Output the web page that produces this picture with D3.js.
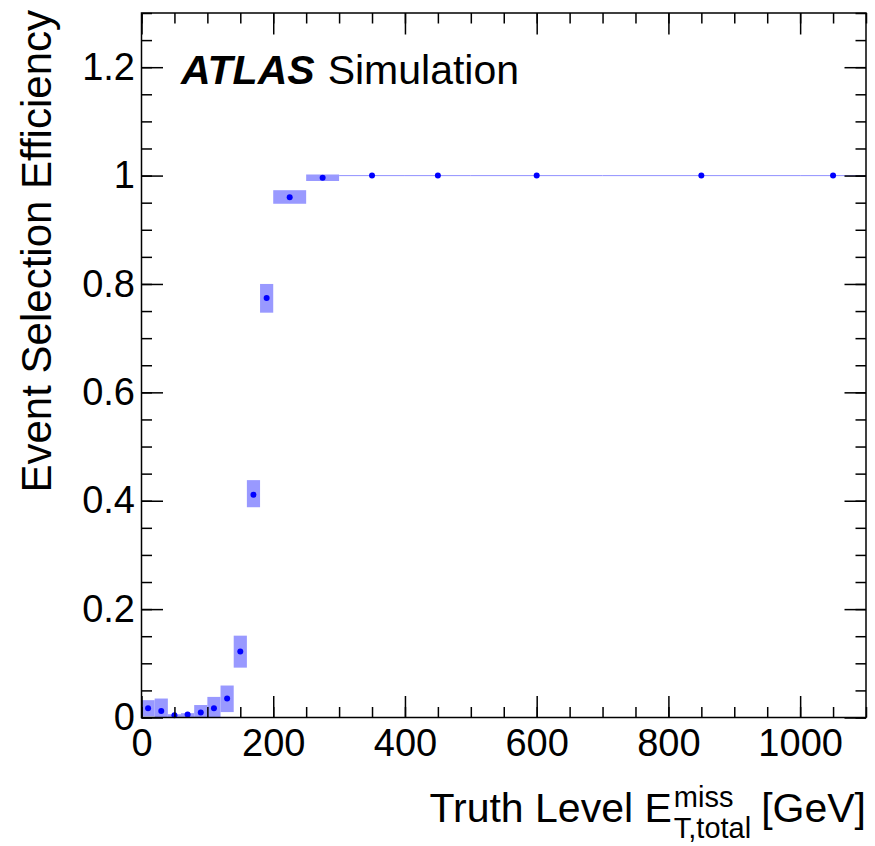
<!DOCTYPE html>
<html>
<head>
<meta charset="utf-8">
<script src="https://cdn.jsdelivr.net/npm/d3@7"></script>
<style>
  body { margin: 0; background: #fff; }
  text { font-family: "Liberation Sans", Arial, Helvetica, sans-serif; fill: #000; }
</style>
</head>
<body>
<div id="chart-container"></div>
<script>
// bin edges of the truth-level MET histogram [GeV]
let binEdges = [0, 20, 40, 60, 80, 100, 120, 140, 160, 180, 200, 250, 300, 400, 500, 700, 1000, 1100];
// efficiency in each bin and the lower / upper edge of its error band
let efficiency = [0.017, 0.012, 0.004, 0.0055, 0.009, 0.017, 0.035, 0.122, 0.411, 0.774, 0.960, 0.996, 1, 1, 1, 1, 1];
let bandLow  = [0.002, 0, 0, 0, 0, 0, 0.010, 0.092, 0.388, 0.747, 0.948, 0.990, 0.999, 0.999, 0.999, 0.999, 0.999];
let bandHigh = [0.032, 0.035, 0.006, 0.008, 0.023, 0.038, 0.059, 0.151, 0.438, 0.800, 0.973, 1.002, 1.001, 1.001, 1.001, 1.001, 1.001];

let xMajor = [0, 200, 400, 600, 800, 1000];
let yMajor = [0, 0.2, 0.4, 0.6, 0.8, 1, 1.2];

let W = 875, H = 846;
let padL = 141.5, padR = 866, padT = 13, padB = 717.5;
let majorLen = 21.5, minorLen = 10.5;

let x = d3.scaleLinear().domain([0, 1100]).range([padL, padR]);
let y = d3.scaleLinear().domain([0, 1.3]).range([padB, padT]);

let svg = d3.select("#chart-container")
    .append("svg")
    .attr("width", W)
    .attr("height", H);

let bins = efficiency.map(function(e, i) {
    return { lo: binEdges[i], hi: binEdges[i + 1], eff: e, down: bandLow[i], up: bandHigh[i] };
});

// error bands
svg.append("g").selectAll("rect")
    .data(bins)
    .enter()
    .append("rect")
    .attr("x", d => x(d.lo))
    .attr("width", d => x(d.hi) - x(d.lo))
    .attr("y", d => y(d.up))
    .attr("height", d => y(d.down) - y(d.up))
    .attr("fill", "#9999ff");

// points
svg.append("g").selectAll("circle")
    .data(bins)
    .enter()
    .append("circle")
    .attr("cx", d => x((d.lo + d.hi) / 2))
    .attr("cy", d => y(d.eff))
    .attr("r", 3)
    .attr("fill", "#0000ff");

// axes: major + minor ticks on all four sides, pointing inward
function minorTicks(dom, step) {
    let t = [];
    for (let v = dom[0]; v <= dom[1] + 1e-9; v += step) t.push(+v.toFixed(3));
    return t;
}
let xMinor = minorTicks([0, 1100], 50);
let yMinor = minorTicks([0, 1.3], 0.05);

function addAxis(axis, tr) {
    let g = svg.append("g").attr("transform", tr).call(axis);
    g.select(".domain").remove();
    g.selectAll("line").attr("stroke", "#000").attr("stroke-width", 1.5);
    return g;
}

let fmtY = d => (d === 0 ? "0" : d === 1 ? "1" : d3.format(".1f")(d));

let gx = addAxis(d3.axisBottom(x).tickValues(xMajor).tickSize(-majorLen).tickPadding(11.5).tickFormat(d3.format("d")), `translate(0,${padB})`);
gx.selectAll("text").style("font-size", "38px");
addAxis(d3.axisBottom(x).tickValues(xMinor).tickSize(-minorLen).tickFormat(""), `translate(0,${padB})`);
addAxis(d3.axisTop(x).tickValues(xMajor).tickSize(-majorLen).tickFormat(""), `translate(0,${padT})`);
addAxis(d3.axisTop(x).tickValues(xMinor).tickSize(-minorLen).tickFormat(""), `translate(0,${padT})`);

let gy = addAxis(d3.axisLeft(y).tickValues(yMajor).tickSize(-majorLen).tickPadding(6.5).tickFormat(fmtY), `translate(${padL},0)`);
gy.selectAll("text").style("font-size", "38px");
addAxis(d3.axisLeft(y).tickValues(yMinor).tickSize(-minorLen).tickFormat(""), `translate(${padL},0)`);
addAxis(d3.axisRight(y).tickValues(yMajor).tickSize(-majorLen).tickFormat(""), `translate(${padR},0)`);
addAxis(d3.axisRight(y).tickValues(yMinor).tickSize(-minorLen).tickFormat(""), `translate(${padR},0)`);

// frame
svg.append("rect")
    .attr("x", padL).attr("y", padT)
    .attr("width", padR - padL).attr("height", padB - padT)
    .attr("fill", "none")
    .attr("stroke", "#000")
    .attr("stroke-width", 1.5);

// y title
svg.append("text")
    .attr("text-anchor", "end")
    .attr("transform", "translate(51,10)rotate(-90)")
    .style("font-size", "42px")
    .text("Event Selection Efficiency");

// x title, built piece by piece then right aligned on the frame
let xt = svg.append("g");
let t1 = xt.append("text").attr("x", 0).attr("y", 0).style("font-size", "41px").text("Truth Level E");
let w1 = t1.node().getComputedTextLength();
let sup = xt.append("text").attr("x", w1 + 2).attr("y", -15).style("font-size", "29px").text("miss");
let sub = xt.append("text").attr("x", w1 + 2).attr("y", 16).style("font-size", "29px").text("T,total");
let w2 = Math.max(sup.node().getComputedTextLength(), sub.node().getComputedTextLength());
let t3 = xt.append("text").attr("x", w1 + 2 + w2 + 10).attr("y", 0).style("font-size", "41px").text("[GeV]");
let total = w1 + 2 + w2 + 10 + t3.node().getComputedTextLength();
xt.attr("transform", `translate(${padR - total},822)`);

// ATLAS label
let lab = svg.append("text").attr("x", 181).attr("y", 84).style("font-size", "41px");
lab.append("tspan").style("font-weight", "bold").style("font-style", "italic").text("ATLAS");
lab.append("tspan").attr("dx", 13).text("Simulation");
</script>
</body>
</html>
